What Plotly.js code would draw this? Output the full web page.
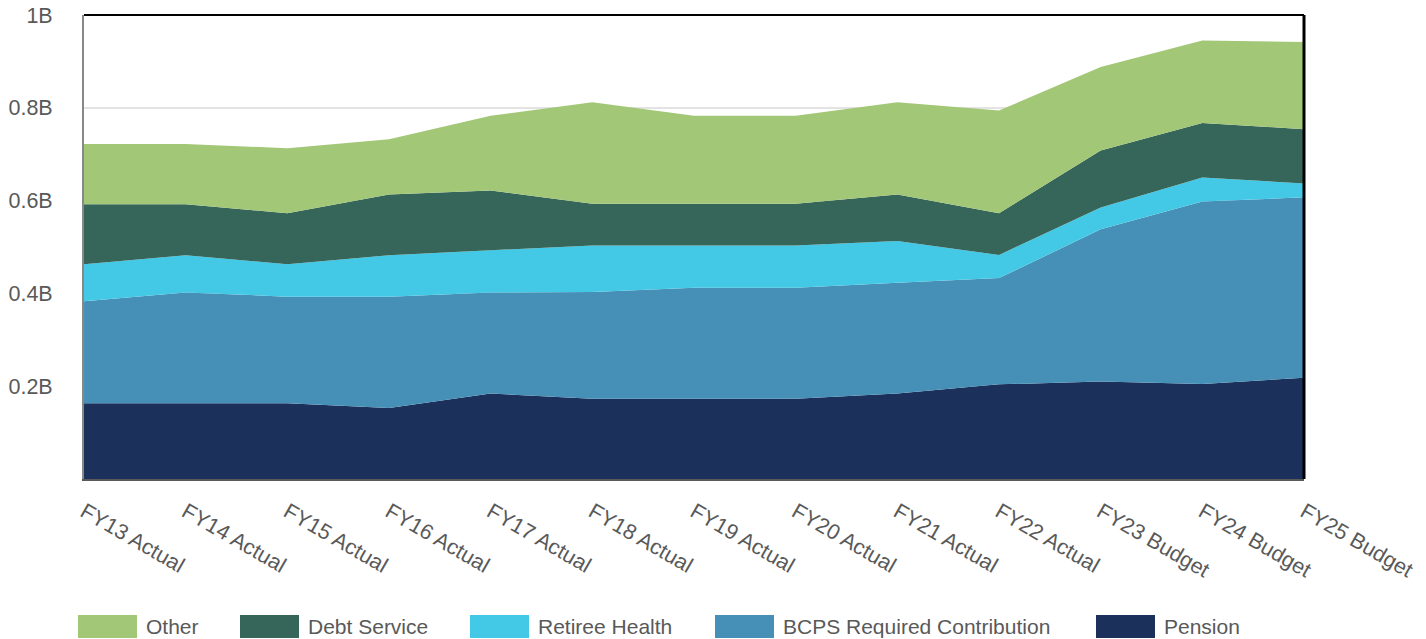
<!DOCTYPE html>
<html>
<head>
<meta charset="utf-8">
<script src="https://cdn.plot.ly/plotly-3.0.1.min.js"></script>
<style>
  html, body { margin: 0; padding: 0; background: #ffffff; }
  #chart { width: 1426px; height: 639px; }
</style>
</head>
<body>
<div id="chart"></div>
<script>
// Categories (fiscal years)
const categories = ["FY13 Actual", "FY14 Actual", "FY15 Actual", "FY16 Actual", "FY17 Actual",
  "FY18 Actual", "FY19 Actual", "FY20 Actual", "FY21 Actual", "FY22 Actual",
  "FY23 Budget", "FY24 Budget", "FY25 Budget"];

// Series values in millions of dollars (stacked bottom to top)
const pension = [163, 163, 163, 153, 184, 173, 173, 173, 184, 204, 210, 205, 218];
const bcpsRequired = [220, 239, 230, 240, 218, 230, 239, 239, 239, 229, 328, 393, 389];
const retireeHealth = [80, 80, 70, 89, 91, 100, 91, 91, 90, 50, 47, 52, 30];
const debtService = [129, 110, 110, 131, 129, 90, 90, 90, 100, 90, 123, 117, 117];
const other = [130, 130, 140, 119, 161, 219, 190, 190, 199, 221, 180, 178, 188];

// Y tick labels
const yTickValues = [200, 400, 600, 800, 1000];
const yTickLabels = ["0.2B", "0.4B", "0.6B", "0.8B", "1B"];

const seriesNames = ["Pension", "BCPS Required Contribution", "Retiree Health", "Debt Service", "Other"];
const seriesData = [pension, bcpsRequired, retireeHealth, debtService, other];
const seriesColors = ["#1b315c", "#4690b8", "#43c9e6", "#366659", "#a2c777"];

const traces = seriesNames.map((name, i) => ({
  type: "scatter",
  x: categories,
  y: seriesData[i].map(v => v * 1e6),
  name: name,
  stackgroup: "one",
  mode: "none",
  fillcolor: seriesColors[i],
  line: { width: 0 },
  hoverinfo: "x+y+name"
}));

// Plot area geometry in pixels (for legend placement)
const W = 1426, H = 639;
const mL = 84, mR = 122, mT = 15, mB = 160;
const plotW = W - mL - mR, plotH = H - mT - mB;
const px2x = p => (p - mL) / plotW;
const px2y = p => (H - mB - p) / plotH;

// Custom legend (order: Other first, Pension last)
const legendOrder = [4, 3, 2, 1, 0];
const legendLeft = [78, 240, 470, 715, 1096];
const shapes = [];
const annotations = [];
legendOrder.forEach((si, k) => {
  const x0 = legendLeft[k];
  shapes.push({
    type: "rect", xref: "paper", yref: "paper",
    x0: px2x(x0), x1: px2x(x0 + 59), y0: px2y(615), y1: px2y(638),
    fillcolor: seriesColors[si], line: { width: 0 }
  });
  annotations.push({
    xref: "paper", yref: "paper", x: px2x(x0 + 66), y: px2y(626),
    xanchor: "left", yanchor: "middle", showarrow: false,
    text: seriesNames[si],
    font: { family: "Liberation Sans, Arial, sans-serif", size: 21, color: "#595959" }
  });
});

// Top and right border lines
shapes.push({ type: "line", xref: "paper", yref: "paper", x0: 0, x1: 1, y0: 1, y1: 1, line: { color: "#000000", width: 2 } });
shapes.push({ type: "line", xref: "paper", yref: "paper", x0: 1, x1: 1, y0: 0, y1: 1, line: { color: "#000000", width: 3 } });

const layout = {
  width: W, height: H,
  margin: { l: mL, r: mR, t: mT, b: mB, pad: 0 },
  paper_bgcolor: "#ffffff",
  plot_bgcolor: "#ffffff",
  showlegend: false,
  font: { family: "Liberation Sans, Arial, sans-serif", color: "#595959" },
  xaxis: {
    type: "category",
    range: [0, categories.length - 1],
    showgrid: false,
    zeroline: false,
    showline: true,
    linecolor: "#595959",
    linewidth: 2,
    tickangle: 30,
    ticks: "",
    ticklabelstandoff: 10,
    tickfont: { family: "Liberation Sans, Arial, sans-serif", size: 21.5, color: "#595959" },
    fixedrange: true
  },
  yaxis: {
    range: [0, 1e9],
    tickvals: yTickValues.map(v => v * 1e6),
    ticktext: yTickLabels,
    showgrid: true,
    gridcolor: "#e3e3e3",
    gridwidth: 2,
    zeroline: false,
    showline: true,
    linecolor: "#888888",
    linewidth: 2,
    ticks: "",
    ticklabelstandoff: 25,
    tickfont: { family: "Liberation Sans, Arial, sans-serif", size: 21.5, color: "#595959" },
    fixedrange: true
  },
  shapes: shapes,
  annotations: annotations
};

Plotly.newPlot("chart", traces, layout, { displayModeBar: false, staticPlot: true });
</script>
</body>
</html>
